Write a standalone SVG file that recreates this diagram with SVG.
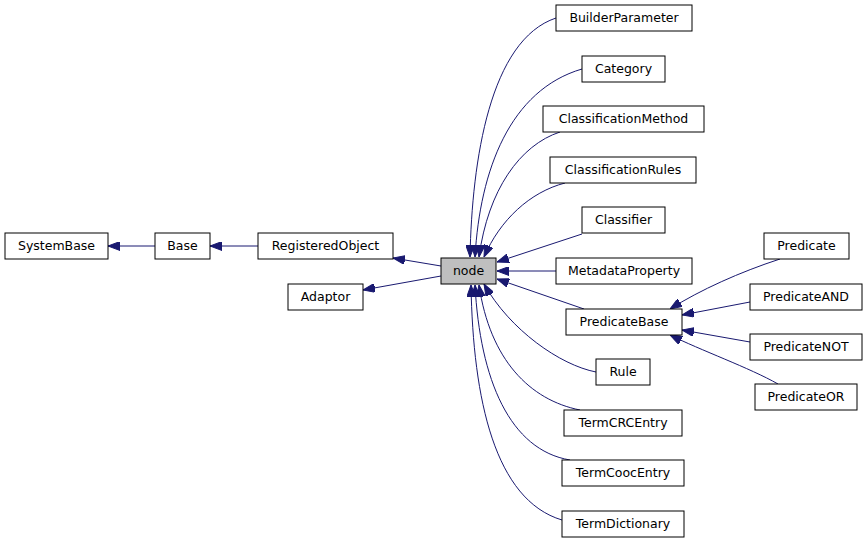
<svg xmlns="http://www.w3.org/2000/svg" width="868" height="544" viewBox="0 0 868 544">
<defs>
<marker id="a" markerUnits="userSpaceOnUse" markerWidth="12" markerHeight="9" refX="12" refY="4.5" orient="auto-start-reverse"><path d="M0,0 L12,4.5 L0,9 z" fill="#191970" stroke="#191970"/></marker>
<style>
rect{fill:#fff;stroke:#000;stroke-width:1}
text{font-family:"DejaVu Sans",sans-serif;font-size:12.5px;text-anchor:middle;fill:#000}
#edges path{fill:none;stroke:#191970;stroke-width:1;marker-start:url(#a)}
</style>
</defs>
<rect width="868" height="544" fill="#fff" style="stroke:none"/>
<g id="edges">
<path d="M470,257 C472,160 490,40 556,18"/>
<path d="M475,257 C480,170 510,90 582,69"/>
<path d="M479,257 C488,190 520,145 560,132"/>
<path d="M484,257 C500,220 530,192 565,183"/>
<path d="M497,262 L582,234"/>
<path d="M497,271 L556,271"/>
<path d="M497,279 L584,309"/>
<path d="M484,284 C510,330 560,365 596,372"/>
<path d="M479,285 C490,360 530,400 580,410"/>
<path d="M475,285 C480,380 510,450 570,460"/>
<path d="M471,285 C473,400 495,500 562,520"/>
<path d="M393,258 L441,266"/>
<path d="M363,290 L441,276"/>
<path d="M210,246 L258,246"/>
<path d="M108,246 L155,246"/>
<path d="M670,309 C700,290 740,272 780,259"/>
<path d="M682,315 L750,302"/>
<path d="M682,330 L750,342"/>
<path d="M670,335 C700,350 750,368 778,384"/>
</g>
<g id="SystemBase"><rect x="5" y="233" width="103" height="26"/><text x="56.5" y="250">SystemBase</text></g>
<g id="Base"><rect x="155" y="233" width="55" height="26"/><text x="182.5" y="250">Base</text></g>
<g id="RegisteredObject"><rect x="258" y="233" width="135" height="26"/><text x="325.5" y="250">RegisteredObject</text></g>
<g id="Adaptor"><rect x="288" y="284" width="75" height="26"/><text x="325.5" y="301">Adaptor</text></g>
<g id="node"><rect x="441" y="258" width="55" height="26" style="fill:#bfbfbf"/><text x="468.5" y="275">node</text></g>
<g id="BuilderParameter"><rect x="556" y="5" width="136" height="26"/><text x="624" y="22">BuilderParameter</text></g>
<g id="Category"><rect x="582" y="56" width="83" height="26"/><text x="623.5" y="73">Category</text></g>
<g id="ClassificationMethod"><rect x="543" y="106" width="161" height="26"/><text x="623.5" y="123">ClassificationMethod</text></g>
<g id="ClassificationRules"><rect x="550" y="157" width="146" height="26"/><text x="623" y="174">ClassificationRules</text></g>
<g id="Classifier"><rect x="582" y="207" width="83" height="26"/><text x="623.5" y="224">Classifier</text></g>
<g id="MetadataProperty"><rect x="556" y="258" width="136" height="26"/><text x="624" y="275">MetadataProperty</text></g>
<g id="PredicateBase"><rect x="566" y="309" width="116" height="26"/><text x="624" y="326">PredicateBase</text></g>
<g id="Rule"><rect x="596" y="359" width="54" height="26"/><text x="623" y="376">Rule</text></g>
<g id="TermCRCEntry"><rect x="564" y="410" width="118" height="26"/><text x="623" y="427">TermCRCEntry</text></g>
<g id="TermCoocEntry"><rect x="562" y="460" width="122" height="26"/><text x="623" y="477">TermCoocEntry</text></g>
<g id="TermDictionary"><rect x="562" y="511" width="122" height="26"/><text x="623" y="528">TermDictionary</text></g>
<g id="Predicate"><rect x="764" y="233" width="85" height="26"/><text x="806.5" y="250">Predicate</text></g>
<g id="PredicateAND"><rect x="750" y="284" width="112" height="26"/><text x="806" y="301">PredicateAND</text></g>
<g id="PredicateNOT"><rect x="750" y="334" width="112" height="26"/><text x="806" y="351">PredicateNOT</text></g>
<g id="PredicateOR"><rect x="755" y="384" width="102" height="26"/><text x="806" y="401">PredicateOR</text></g>
</svg>
